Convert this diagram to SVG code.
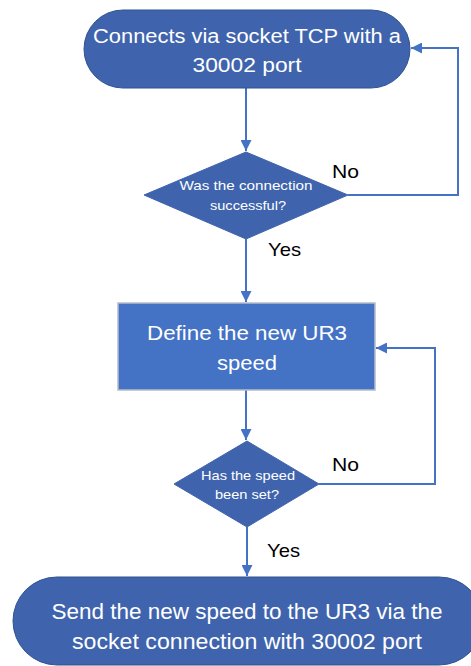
<svg xmlns="http://www.w3.org/2000/svg" width="471" height="666" viewBox="0 0 471 666">
<style>
.term{fill:#3F64AD;stroke:#2F528F;stroke-width:1}
.dia{fill:#3F64AD;stroke:#3F64AD;stroke-width:1}
.proc{fill:#4472C4;stroke:#B4BCCC;stroke-width:1.5}
.t{font-family:"Liberation Sans",Arial,sans-serif;fill:#FFFFFF;text-anchor:middle}
.lbl{font-family:"Liberation Sans",Arial,sans-serif;fill:#000000;font-size:19px}
.c{fill:none;stroke:#4472C4;stroke-width:2}
</style>
<defs>
<marker id="ah" viewBox="0 0 10 10" refX="10" refY="5" markerWidth="5.5" markerHeight="5.5" orient="auto" markerUnits="strokeWidth">
<path d="M0,0 L10,5 L0,10 z" fill="#4472C4"/>
</marker>
</defs>
<g id="connectors">
<path class="c" d="M246,88 L246,151" marker-end="url(#ah)"/>
<path class="c" d="M348,195 L458,195 L458,48 L411,48" marker-end="url(#ah)"/>
<path class="c" d="M246,239 L246,302" marker-end="url(#ah)"/>
<path class="c" d="M246,390 L246,440" marker-end="url(#ah)"/>
<path class="c" d="M319,484 L435,484 L435,348 L376,348" marker-end="url(#ah)"/>
<path class="c" d="M247,527 L247,576" marker-end="url(#ah)"/>
<text class="lbl" x="332" y="178" textLength="27" lengthAdjust="spacingAndGlyphs">No</text>
<text class="lbl" x="268" y="256" textLength="33" lengthAdjust="spacingAndGlyphs">Yes</text>
<text class="lbl" x="332" y="471" textLength="27" lengthAdjust="spacingAndGlyphs">No</text>
<text class="lbl" x="267" y="557" textLength="33" lengthAdjust="spacingAndGlyphs">Yes</text>
</g>
<g id="start">
<rect class="term" x="84" y="10" width="326" height="78" rx="39" ry="39"/>
<text class="t" font-size="20" x="247" y="43" textLength="308" lengthAdjust="spacingAndGlyphs">Connects via socket TCP with a</text>
<text class="t" font-size="20" x="247" y="72" textLength="109" lengthAdjust="spacingAndGlyphs">30002 port</text>
</g>
<g id="check-connection">
<polygon class="dia" points="246,152 348,195 246,239 144,195"/>
<text class="t" font-size="13" x="246" y="190" textLength="133" lengthAdjust="spacingAndGlyphs">Was the connection</text>
<text class="t" font-size="13" x="248" y="210" textLength="76" lengthAdjust="spacingAndGlyphs">successful?</text>
</g>
<g id="define-speed">
<rect class="proc" x="118" y="303" width="257" height="87"/>
<text class="t" font-size="20" x="247" y="340" textLength="200" lengthAdjust="spacingAndGlyphs">Define the new UR3</text>
<text class="t" font-size="20" x="247" y="370" textLength="60" lengthAdjust="spacingAndGlyphs">speed</text>
</g>
<g id="check-speed">
<polygon class="dia" points="247,441 319,484 247,527 174,484"/>
<text class="t" font-size="13" x="248" y="480" textLength="94" lengthAdjust="spacingAndGlyphs">Has the speed</text>
<text class="t" font-size="13" x="247" y="499" textLength="64" lengthAdjust="spacingAndGlyphs">been set?</text>
</g>
<g id="send">
<rect class="term" x="13" y="577" width="470" height="88" rx="44" ry="44"/>
<text class="t" font-size="22" x="247" y="619" textLength="391" lengthAdjust="spacingAndGlyphs">Send the new speed to the UR3 via the</text>
<text class="t" font-size="22" x="247" y="649" textLength="350" lengthAdjust="spacingAndGlyphs">socket connection with 30002 port</text>
</g>
</svg>
